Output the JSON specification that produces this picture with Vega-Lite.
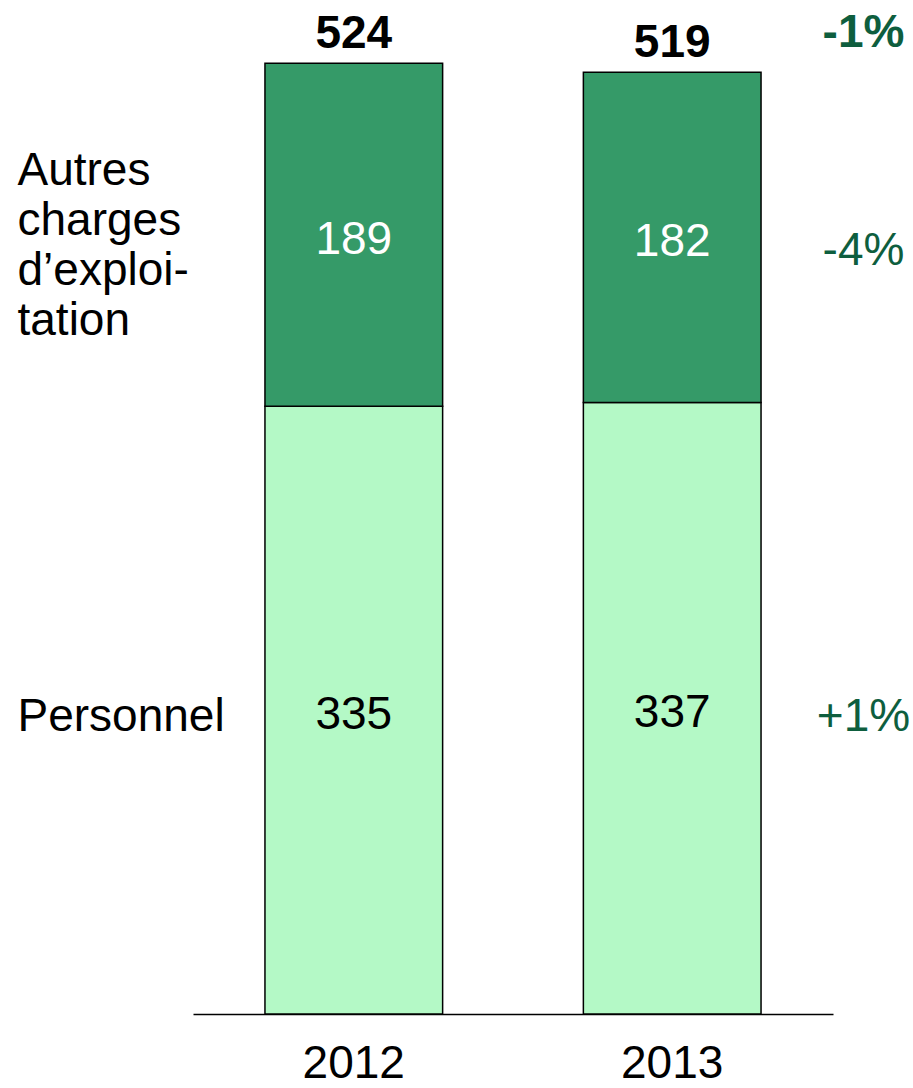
{
  "$schema": "https://vega.github.io/schema/vega-lite/v6.json",
  "width": 640,
  "height": 1007,
  "autosize": {"type": "none"},
  "padding": {"left": 193, "right": 80, "top": 7, "bottom": 74},
  "background": "white",
  "config": {
    "view": {"stroke": null},
    "font": "Liberation Sans",
    "axis": {"grid": false, "ticks": false, "title": null, "labelFont": "Liberation Sans"}
  },
  "data": {
    "values": [
      {"year": "2012", "cat": "Personnel", "value": 335},
      {"year": "2012", "cat": "Autres charges d'exploitation", "value": 189},
      {"year": "2013", "cat": "Personnel", "value": 337},
      {"year": "2013", "cat": "Autres charges d'exploitation", "value": 182}
    ]
  },
  "transform": [
    {"stack": "value", "groupby": ["year"], "sort": [{"field": "cat", "order": "descending"}], "as": ["v0", "v1"]}
  ],
  "resolve": {"axis": {"y": "independent"}},
  "layer": [
    {
      "mark": {"type": "bar", "stroke": "black", "strokeWidth": 1.5},
      "encoding": {
        "x": {
          "field": "year", "type": "nominal",
          "scale": {"paddingInner": 0.442, "paddingOuter": 0.226},
          "axis": {"labelFontSize": 46, "labelColor": "black", "labelAngle": 0, "labelPadding": 27, "domainColor": "black", "domainWidth": 1.5}
        },
        "y": {
          "field": "v0", "type": "quantitative",
          "scale": {"domain": [0, 555], "nice": false, "zero": true},
          "axis": {
            "orient": "left", "domain": false, "values": [465, 164],
            "labelExpr": "datum.value > 300 ? ['Autres', 'charges', 'd’exploi-', 'tation'] : 'Personnel'",
            "labelAlign": "left", "labelBaseline": "middle", "labelPadding": 176,
            "labelFontSize": 46, "labelLineHeight": 50, "labelColor": "black",
            "labelLimit": 0, "labelOverlap": false, "labelBound": false, "labelFlush": false
          }
        },
        "y2": {"field": "v1"},
        "color": {
          "field": "cat", "type": "nominal",
          "scale": {"domain": ["Personnel", "Autres charges d'exploitation"], "range": ["#B4F9C6", "#359A68"]},
          "legend": null
        }
      }
    },
    {
      "transform": [
        {"fold": ["v0", "v1"], "as": ["edge", "pos"]},
        {"aggregate": [{"op": "mean", "field": "pos", "as": "mid"}], "groupby": ["year", "cat", "value"]}
      ],
      "mark": {"type": "text", "fontSize": 46, "baseline": "middle", "align": "center", "dy": 5},
      "encoding": {
        "x": {"field": "year", "type": "nominal"},
        "y": {
          "field": "mid", "type": "quantitative",
          "axis": {
            "orient": "right", "domain": false, "values": [541, 421, 164],
            "labelExpr": "datum.value > 500 ? '-1%' : datum.value > 300 ? '-4%' : '+1%'",
            "labelAlign": "center", "labelBaseline": "middle", "labelPadding": 30,
            "labelFontSize": 46, "labelColor": "#0E5E3E",
            "labelFontWeight": {"condition": {"test": "datum.value > 500", "value": "bold"}, "value": "normal"},
            "labelLimit": 0, "labelOverlap": false, "labelBound": false, "labelFlush": false
          }
        },
        "text": {"field": "value", "type": "quantitative"},
        "color": {"condition": {"test": "datum.cat === 'Personnel'", "value": "black"}, "value": "white"}
      }
    },
    {
      "transform": [
        {"aggregate": [{"op": "sum", "field": "value", "as": "total"}], "groupby": ["year"]}
      ],
      "mark": {"type": "text", "fontSize": 46, "fontWeight": "bold", "baseline": "alphabetic", "align": "center", "dy": -15, "color": "black"},
      "encoding": {
        "x": {"field": "year", "type": "nominal"},
        "y": {"field": "total", "type": "quantitative", "axis": null},
        "text": {"field": "total", "type": "quantitative"}
      }
    }
  ]
}
